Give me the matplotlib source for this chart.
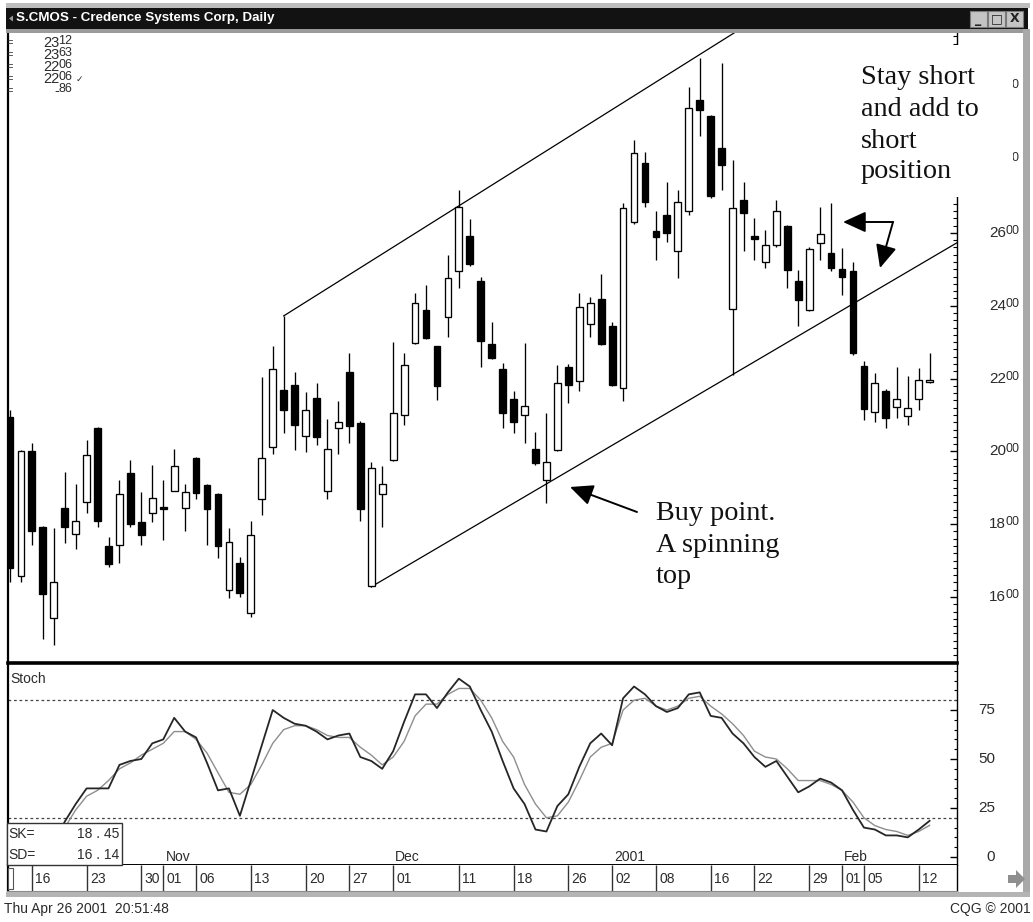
import numpy as np
import matplotlib
matplotlib.use("Agg")
import matplotlib.pyplot as plt
import matplotlib.transforms as mtransforms
from matplotlib.patches import Rectangle, Polygon

nan = float("nan")

# ---------------- data ----------------
opens = [2094, 1658, 2002, 1793, 1541, 1844, 1773, 1862, 2063, 1740,
         1743, 1940, 1805, 1832, 1846, 1892, 1844, 1983, 1908, 1883,
         1619, 1693, 1555, 1868, 2011, 2169, 2182, 2042, 2146, 1892,
         2063, 2219, 2077, 1630, 1883, 1975, 2100, 2297, 2388, 2288,
         2368, 2494, 2592, 2469, 2295, 2226, 2143, 2100, 2006, 1921,
         2004, 2233, 2194, 2350, 2418, 2345, 2173, 2631, 2791, 2606,
         2649, 2549, 2659, 2965, 2920, 2833, 2390, 2691, 2592, 2521,
         2567, 2620, 2469, 2387, 2572, 2544, 2500, 2494, 2235, 2109,
         2167, 2121, 2097, 2143, 2190]
highs = [2114, 2005, 2022, 1795, 1789, 1944, 1911, 2031, 2066, 1764,
         1921, 1975, 1889, 1963, 1921, 2006, 1911, 1985, 1910, 1885,
         1790, 1711, 1809, 2205, 2288, 2372, 2219, 2164, 2187, 2088,
         2137, 2269, 2084, 1972, 1960, 2299, 2269, 2434, 2457, 2290,
         2540, 2718, 2638, 2480, 2356, 2244, 2167, 2297, 2054, 2105,
         2237, 2240, 2436, 2423, 2487, 2356, 2681, 2855, 2823, 2659,
         2741, 2718, 3002, 3080, 2925, 3066, 2800, 2741, 2640, 2608,
         2691, 2622, 2498, 2562, 2672, 2681, 2558, 2521, 2247, 2215,
         2170, 2233, 2207, 2228, 2269]
lows = [1642, 1642, 1743, 1484, 1468, 1749, 1731, 1832, 1793, 1682,
        1693, 1793, 1743, 1807, 1757, 1890, 1780, 1868, 1743, 1708,
        1596, 1600, 1546, 1825, 1993, 2050, 2004, 1999, 2018, 1868,
        1993, 2022, 1810, 1628, 1793, 1973, 2073, 2295, 2309, 2141,
        2315, 2448, 2508, 2231, 2253, 2063, 2050, 2022, 1963, 1857,
        2002, 2132, 2167, 2315, 2293, 2180, 2137, 2625, 2672, 2526,
        2576, 2475, 2649, 2865, 2695, 2718, 2210, 2549, 2526, 2503,
        2562, 2448, 2343, 2385, 2526, 2494, 2430, 2265, 2086, 2082,
        2063, 2091, 2073, 2114, 2188]
closes = [1679, 2002, 1781, 1608, 1640, 1791, 1809, 1990, 1810, 1691,
          1883, 1801, 1770, 1871, 1842, 1960, 1889, 1887, 1841, 1740,
          1752, 1610, 1770, 1983, 2226, 2114, 2073, 2114, 2039, 2006,
          2082, 2070, 1841, 1954, 1911, 2105, 2237, 2407, 2311, 2180,
          2475, 2672, 2515, 2304, 2256, 2105, 2082, 2125, 1967, 1972,
          2187, 2182, 2396, 2407, 2295, 2182, 2668, 2820, 2686, 2590,
          2599, 2686, 2942, 2938, 2700, 2787, 2668, 2656, 2582, 2567,
          2659, 2498, 2416, 2556, 2596, 2503, 2478, 2269, 2116, 2189,
          2091, 2143, 2118, 2196, 2196]

sk = [nan, nan, nan, nan, 6, 18, 27, 35, 35, 35,
      47, 49, 50, 58, 60, 71, 64, 61, 48, 34,
      35, 21, 39, 57, 75, 71, 68, 67, 64, 60,
      62, 63, 51, 49, 45, 54, 69, 83, 83, 76,
      84, 91, 87, 75, 64, 49, 35, 27, 14, 13,
      26, 32, 46, 58, 63, 57, 81, 87, 83, 77,
      74, 76, 83, 84, 72, 71, 63, 58, 51, 46,
      49, 41, 33, 36, 40, 38, 34, 24, 15, 14,
      11, 11, 10, 14, 18.45]
sd = [nan, nan, nan, nan, 9, 15, 24, 31, 34, 39,
      45, 48, 52, 55, 58, 64, 64, 60, 53, 43,
      33, 32, 37, 47, 58, 65, 67, 67, 65, 62,
      61, 61, 56, 52, 47, 51, 59, 72, 78, 78,
      83, 86, 86, 80, 71, 59, 51, 37, 27, 20,
      21, 28, 39, 51, 56, 58, 75, 80, 81, 77,
      75, 77, 81, 82, 77, 73, 68, 62, 54, 51,
      50, 45, 39, 39, 39, 37, 34, 28, 20, 16,
      14, 13, 11, 13, 16.14]

price_ticks = [1600, 1800, 2000, 2200, 2400, 2600, 2800, 3000]
stoch_ticks = [0, 25, 50, 75]
stoch_levels = [20, 80]
date_tick_pos = [2, 7, 12, 14, 17, 22, 27, 31, 35, 41, 46, 51, 55, 59, 64, 68, 73, 76, 78, 83]
date_tick_labels = ["16", "23", "30", "01", "06", "13", "20", "27", "01", "11",
                    "18", "26", "02", "08", "16", "22", "29", "01", "05", "12"]
month_pos = [14, 35, 55, 76]
month_labels = ["Nov", "Dec", "2001", "Feb"]
upper_line_x = [25, 66.5]
upper_line_y = [2372, 3156]
lower_line_x = [33, 86.5]
lower_line_y = [1628, 2573]
header_big = ["23", "23", "22", "22", "-"]
header_small = ["12", "63", "06", "06", "86"]
sk_last = "18.45"
sd_last = "16.14"

# ---------------- figure ----------------
W, H = 1033, 922
fig = plt.figure(figsize=(W / 100, H / 100), dpi=100)
fig.patch.set_facecolor("white")

SANS = ["Liberation Sans", "DejaVu Sans"]
SERIF = ["Liberation Serif", "DejaVu Serif"]
TXT = "#2b2b2b"


def axes_px(x0, y0, x1, y1):
    return fig.add_axes([x0 / W, 1 - y1 / H, (x1 - x0) / W, (y1 - y0) / H])


XL = (-0.18, 86.5)
xs = np.arange(len(opens))
AXW = 949.0

# ---------------- price panel ----------------
axp = axes_px(8, 33, 957, 662)
axp.set_xlim(*XL)
axp.set_ylim(1421.5, 3149)
bw = 0.62
for i in xs:
    o, h, l, c = opens[i], highs[i], lows[i], closes[i]
    axp.vlines(i, l, h, color="black", lw=0.95, zorder=2)
    lo = min(o, c)
    hgt = max(abs(c - o), 4)
    fc = "white" if c >= o else "black"
    axp.add_patch(Rectangle((i - bw / 2, lo), bw, hgt, facecolor=fc,
                            edgecolor="black", lw=0.95, zorder=3))
axp.plot(upper_line_x, upper_line_y, color="black", lw=0.9, zorder=1)
axp.plot(lower_line_x, lower_line_y, color="black", lw=0.9, zorder=1)

axp.yaxis.tick_right()
axp.set_yticks(price_ticks)
axp.set_yticks(np.arange(1440, 3150, 20), minor=True)
axp.tick_params(axis="y", which="major", direction="in", length=5, width=1,
                labelright=False, labelleft=False)
axp.tick_params(axis="y", which="minor", direction="in", length=3, width=0.8)
axp.set_xticks([])
for s in ["top", "bottom"]:
    axp.spines[s].set_visible(False)
axp.spines["left"].set_linewidth(1.6)
axp.spines["right"].set_linewidth(1.0)

tr = mtransforms.blended_transform_factory(axp.transAxes, axp.transData)
tr_up = mtransforms.offset_copy(tr, fig=fig, x=-1, y=2, units="dots")
lx = (1006 - 8) / AXW
for v in price_ticks:
    s = str(v)
    axp.text(lx, v, s[:2], transform=tr, ha="right", va="center",
             fontsize=11, family=SANS, color=TXT, clip_on=False)
    axp.text(lx, v, s[2:], transform=tr_up, ha="left", va="center",
             fontsize=9, family=SANS, color=TXT, clip_on=False)

# ---------------- stochastic panel ----------------
axs = axes_px(8, 663, 957, 865)
axs.set_xlim(*XL)
axs.set_ylim(-4.1, 99)
for lev in stoch_levels:
    axs.axhline(lev, color="#444444", lw=0.9, ls=(0, (2.2, 2.2)))
axs.plot(xs, sd, color="#8e8e8e", lw=1.0)
axs.plot(xs, sk, color="#262626", lw=1.3)
axs.yaxis.tick_right()
axs.set_yticks(stoch_ticks)
axs.set_yticks(np.arange(0, 100, 5), minor=True)
axs.tick_params(axis="y", which="major", direction="in", length=5, width=1,
                labelright=False, labelleft=False)
axs.tick_params(axis="y", which="minor", direction="in", length=2.5, width=0.8)
axs.set_xticks([])
axs.spines["top"].set_linewidth(2.6)
axs.spines["left"].set_linewidth(1.6)
axs.spines["right"].set_linewidth(1.0)
axs.spines["bottom"].set_linewidth(1.4)
trs = mtransforms.blended_transform_factory(axs.transAxes, axs.transData)
for v in stoch_ticks:
    axs.text((995 - 8) / AXW, v, str(v), transform=trs, ha="right",
             va="center", fontsize=11, family=SANS, color=TXT, clip_on=False)
trm = mtransforms.blended_transform_factory(axs.transData, axs.transAxes)
for p, lab in zip(month_pos, month_labels):
    axs.text(p + 0.2, 0.005, lab, transform=trm, ha="left", va="bottom",
             fontsize=10, family=SANS, color=TXT)
axs.text(0.002, 0.955, "Stoch", transform=axs.transAxes, ha="left", va="top",
         fontsize=10, family=SANS, color=TXT)

# ---------------- date row ----------------
axd = axes_px(8, 865, 957, 892)
axd.set_xlim(*XL)
axd.set_ylim(0, 1)
axd.vlines(date_tick_pos, 0, 1, color="#333333", lw=1.0)
for p, lab in zip(date_tick_pos, date_tick_labels):
    axd.text(p + 0.3, 0.47, lab, ha="left", va="center", fontsize=10,
             family=SANS, color=TXT)
axd.set_xticks([])
axd.set_yticks([])
axd.spines["top"].set_visible(False)
axd.spines["left"].set_linewidth(1.6)
axd.spines["right"].set_linewidth(1.0)
axd.spines["bottom"].set_color("#8a8a8a")
axd.spines["bottom"].set_linewidth(1.5)

# ---------------- overlay (window chrome, annotations) ----------------
ov = fig.add_axes([0, 0, 1, 1], zorder=10)
ov.set_xlim(0, W)
ov.set_ylim(H, 0)
ov.axis("off")
ov.patch.set_alpha(0)

# window chrome
ov.add_patch(Rectangle((6, 3), 1024, 5, color="#bdbdbd", lw=0))
ov.add_patch(Rectangle((6, 8), 1022, 21, color="#121212", lw=0))
ov.add_patch(Rectangle((6, 29), 1022, 4, color="#9b9b9b", lw=0))
ov.add_patch(Polygon([[9, 18.5], [13, 15.5], [13, 21.5]], closed=True, color="#9a9a9a", lw=0))
ov.text(16, 18.5, "S.CMOS - Credence Systems Corp, Daily", color="white",
        fontsize=9.6, fontweight="bold", family=SANS, ha="left", va="center")
for bx, glyph in zip([970, 988, 1006], ["_", "\u25a1", "X"]):
    ov.add_patch(Rectangle((bx, 11), 17, 16, facecolor="#c4c4c4",
                           edgecolor="#7a7a7a", lw=0.8))
    ov.text(bx + 8.5, 19, glyph, ha="center", va="center", fontsize=9,
            fontweight="bold", color="#222222", family=["DejaVu Sans"])
ov.add_patch(Rectangle((1023, 29), 7, 868, color="#a9a9a9", lw=0))
ov.add_patch(Rectangle((6, 892), 1024, 5, color="#b4b4b4", lw=0))
ov.add_patch(Polygon([[1008, 875], [1016, 875], [1016, 870], [1025, 879],
                      [1016, 888], [1016, 883], [1008, 883]], closed=True,
                     color="#8f8f8f", lw=0))
ov.add_patch(Rectangle((8, 868), 5, 21, facecolor="white", edgecolor="#555555", lw=0.8))

# header values
hy = [43, 55, 67, 79, 91]
for y, b, s in zip(hy, header_big, header_small):
    ov.text(6, y, "=", ha="left", va="center", fontsize=8, color=TXT, family=SANS)
    ov.text(59, y, b, ha="right", va="center", fontsize=10.5, color=TXT, family=SANS)
    ov.text(58.5, y - 1.5, s, ha="left", va="center", fontsize=9, color=TXT, family=SANS)
ov.text(76, hy[3], "\u2713", ha="left", va="center", fontsize=6.5, color=TXT,
        family=["DejaVu Sans"])

# SK / SD box
ov.add_patch(Rectangle((7, 823), 115, 42, facecolor="white", edgecolor="#333333", lw=1.0))
ov.text(8, 834, "SK=", ha="left", va="center", fontsize=10, color=TXT, family=SANS)
ov.text(119, 834, sk_last.replace(".", " . "), ha="right", va="center", fontsize=10,
        color=TXT, family=SANS)
ov.text(8, 855, "SD=", ha="left", va="center", fontsize=10, color=TXT, family=SANS)
ov.text(119, 855, sd_last.replace(".", " . "), ha="right", va="center", fontsize=10,
        color=TXT, family=SANS)

# "Stay short" annotation with white background
ov.add_patch(Rectangle((850, 45), 163, 152, facecolor="white", lw=0))
for y, line in zip([78, 110, 142, 172], ["Stay short", "and add to", "short", "position"]):
    ov.text(861, y, line, ha="left", va="center", fontsize=20.3, family=SERIF,
            color="#111111")
arrow_kw = dict(arrowstyle="-|>,head_length=0.7,head_width=0.32", lw=1.4,
                color="black", shrinkA=0, shrinkB=0, mutation_scale=20)
ov.annotate("", xy=(843, 222), xytext=(893, 222), arrowprops=arrow_kw)
ov.annotate("", xy=(880, 268), xytext=(893, 222), arrowprops=arrow_kw)

# "Buy point" annotation
for y, line in zip([513, 545, 576], ["Buy point.", "A spinning", "top"]):
    ov.text(656, y, line, ha="left", va="center", fontsize=20.3, family=SERIF,
            color="#111111")
ov.annotate("", xy=(570, 487), xytext=(637, 512), arrowprops=arrow_kw)

# footer
ov.text(4, 909, "Thu Apr 26 2001  20:51:48", ha="left", va="center", fontsize=10,
        family=SANS, color=TXT)
ov.text(1031, 909, "CQG \u00a9 2001", ha="right", va="center", fontsize=10,
        family=SANS, color=TXT)

fig.savefig("out.png", dpi=100, facecolor="white")
